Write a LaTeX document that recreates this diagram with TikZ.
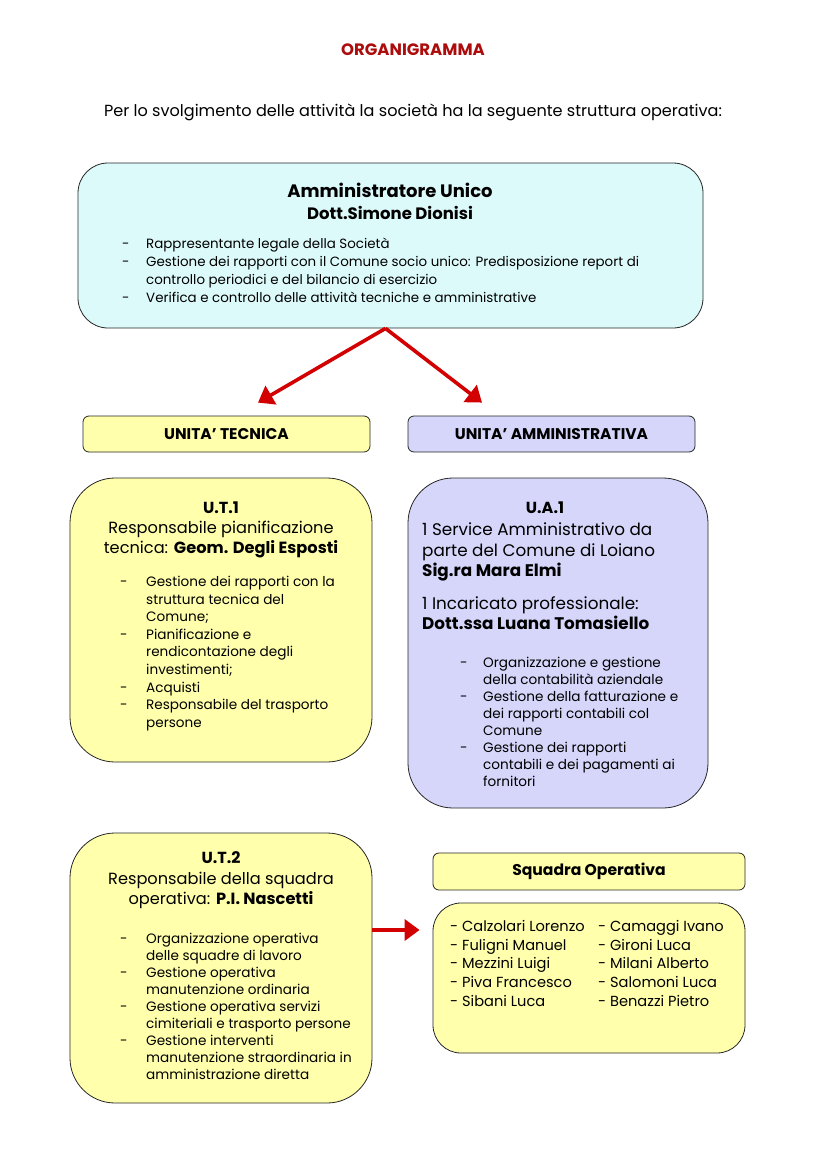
\documentclass[tikz,border=0pt]{standalone}
\usepackage{fontspec}
\setmainfont{Poppins}
\usetikzlibrary{arrows.meta, positioning, calc}

\definecolor{celeste}{RGB}{221,250,251}
\definecolor{giallo}{RGB}{255,255,172}
\definecolor{lilla}{RGB}{214,214,250}
\definecolor{rosso}{RGB}{210,0,0}
\definecolor{rossoscuro}{RGB}{172,12,12}

% elenco puntato con trattino: #1 rientro, #2 righe
\newcommand{\elenco}[2]{\begin{tabular}{@{}p{#1}@{}l@{}}#2\end{tabular}}

\tikzset{
  box/.style={draw=black!85, line width=0.8pt, rounded corners=#1, inner sep=0pt},
  box/.default=6pt,
  testo/.style 2 args={inner sep=0pt, font=\fontsize{#1}{#2}\selectfont},
  freccia/.style={draw=rosso, line width=3.6pt, -{Triangle[length=15pt,width=21pt]}}
}

\begin{document}
\begin{tikzpicture}[x=1pt, y=-1pt]
\useasboundingbox (0,0) rectangle (826,1169);

% titolo
\node[testo={16.5}{18}, text=rossoscuro] (titolo) at (413,50) {\bfseries ORGANIGRAMMA};
\node[testo={16.1}{18}] (intro) at (413,112) {Per lo svolgimento delle attività la società ha la seguente struttura operativa:};

% amministratore
\node[box=30pt, fill=celeste, minimum width=625pt, minimum height=165pt] (amm) at (390.5,245.5) {};
\node[testo={18}{20}] (ammtit) at (390,190) {\bfseries Amministratore Unico};
\node[testo={16.5}{18}] (ammnome) at (390,213) {\bfseries Dott.Simone Dionisi};
\node[testo={13.4}{18.3}, anchor=north west] (ammcompiti) at (122,235) {\elenco{24pt}{%
  - & Rappresentante legale della Società\\
  - & Gestione dei rapporti con il Comune socio unico: Predisposizione report di\\
    & controllo periodici e del bilancio di esercizio\\
  - & Verifica e controllo delle attività tecniche e amministrative}};

% unita
\node[box, fill=giallo, minimum width=287pt, minimum height=36pt] (tecnica) at (226.5,434) {};
\node[testo={15.5}{17}] at (tecnica) {\bfseries UNITA’ TECNICA};
\node[box, fill=lilla, minimum width=287pt, minimum height=36pt] (ammva) at (551.5,434) {};
\node[testo={15.5}{17}] at (ammva) {\bfseries UNITA’ AMMINISTRATIVA};

\draw[freccia] ([xshift=-5pt]amm.south) -- ([xshift=31.5pt,yshift=13pt]tecnica.north);
\draw[freccia] ([xshift=-5pt]amm.south) -- ([xshift=-69.5pt,yshift=13pt]ammva.north);

% U.T.1
\node[box=45pt, fill=giallo, minimum width=302pt, minimum height=284pt] (ut1) at (221,620) {};
\node[testo={16}{20}] (ut1tit) at (221,508) {\bfseries U.T.1};
\node[testo={16.2}{20}, align=center] (ut1resp) at (221,540) {Responsabile pianificazione\\tecnica: \textbf{Geom. Degli Esposti}};
\node[testo={13.6}{17.6}, anchor=north west] (ut1compiti) at (120,574) {\elenco{26pt}{%
  - & Gestione dei rapporti con la\\
    & struttura tecnica del\\
    & Comune;\\
  - & Pianificazione e\\
    & rendicontazione degli\\
    & investimenti;\\
  - & Acquisti\\
  - & Responsabile del trasporto\\
    & persone}};

% U.A.1
\node[box=45pt, fill=lilla, minimum width=300pt, minimum height=330pt] (ua1) at (558,643) {};
\node[testo={16}{20}] (ua1tit) at (545,508) {\bfseries U.A.1};
\node[testo={16.8}{20.5}, align=left, anchor=north west] (ua1resp) at (422,523) {1 Service Amministrativo da\\parte del Comune di Loiano\\\textbf{Sig.ra Mara Elmi}\\[12pt]1 Incaricato professionale:\\\textbf{Dott.ssa Luana Tomasiello}};
\node[testo={13.6}{17.1}, anchor=north west] (ua1compiti) at (460,655) {\elenco{23pt}{%
  - & Organizzazione e gestione\\
    & della contabilità aziendale\\
  - & Gestione della fatturazione e\\
    & dei rapporti contabili col\\
    & Comune\\
  - & Gestione dei rapporti\\
    & contabili e dei pagamenti ai\\
    & fornitori}};

% U.T.2
\node[box=45pt, fill=giallo, minimum width=302pt, minimum height=270pt] (ut2) at (221,968) {};
\node[testo={16}{20}] (ut2tit) at (221,858) {\bfseries U.T.2};
\node[testo={16.2}{20}, align=center] (ut2resp) at (221,890) {Responsabile della squadra\\operativa: \textbf{P.I. Nascetti}};
\node[testo={13.6}{17}, anchor=north west] (ut2compiti) at (120,931) {\elenco{26pt}{%
  - & Organizzazione operativa\\
    & delle squadre di lavoro\\
  - & Gestione operativa\\
    & manutenzione ordinaria\\
  - & Gestione operativa servizi\\
    & cimiteriali e trasporto persone\\
  - & Gestione interventi\\
    & manutenzione straordinaria in\\
    & amministrazione diretta}};

% squadra operativa
\node[box, fill=giallo, minimum width=312pt, minimum height=37pt] (squadra) at (589,871.5) {};
\node[testo={15.6}{17}] at (squadra) {\bfseries Squadra Operativa};
\node[box=28pt, fill=giallo, minimum width=312pt, minimum height=150pt] (lista) at (589,978) {};
\node[testo={14.6}{18.75}, anchor=north west] (nomi) at (450,918) {\begin{tabular}{@{}p{148pt}@{}l@{}}
  - Calzolari Lorenzo & - Camaggi Ivano\\
  - Fuligni Manuel & - Gironi Luca\\
  - Mezzini Luigi & - Milani Alberto\\
  - Piva Francesco & - Salomoni Luca\\
  - Sibani Luca & - Benazzi Pietro\end{tabular}};

\draw[freccia] ([yshift=38pt]ut2.east) -- ([xshift=-13pt,yshift=48pt]lista.west);
\end{tikzpicture}
\end{document}
